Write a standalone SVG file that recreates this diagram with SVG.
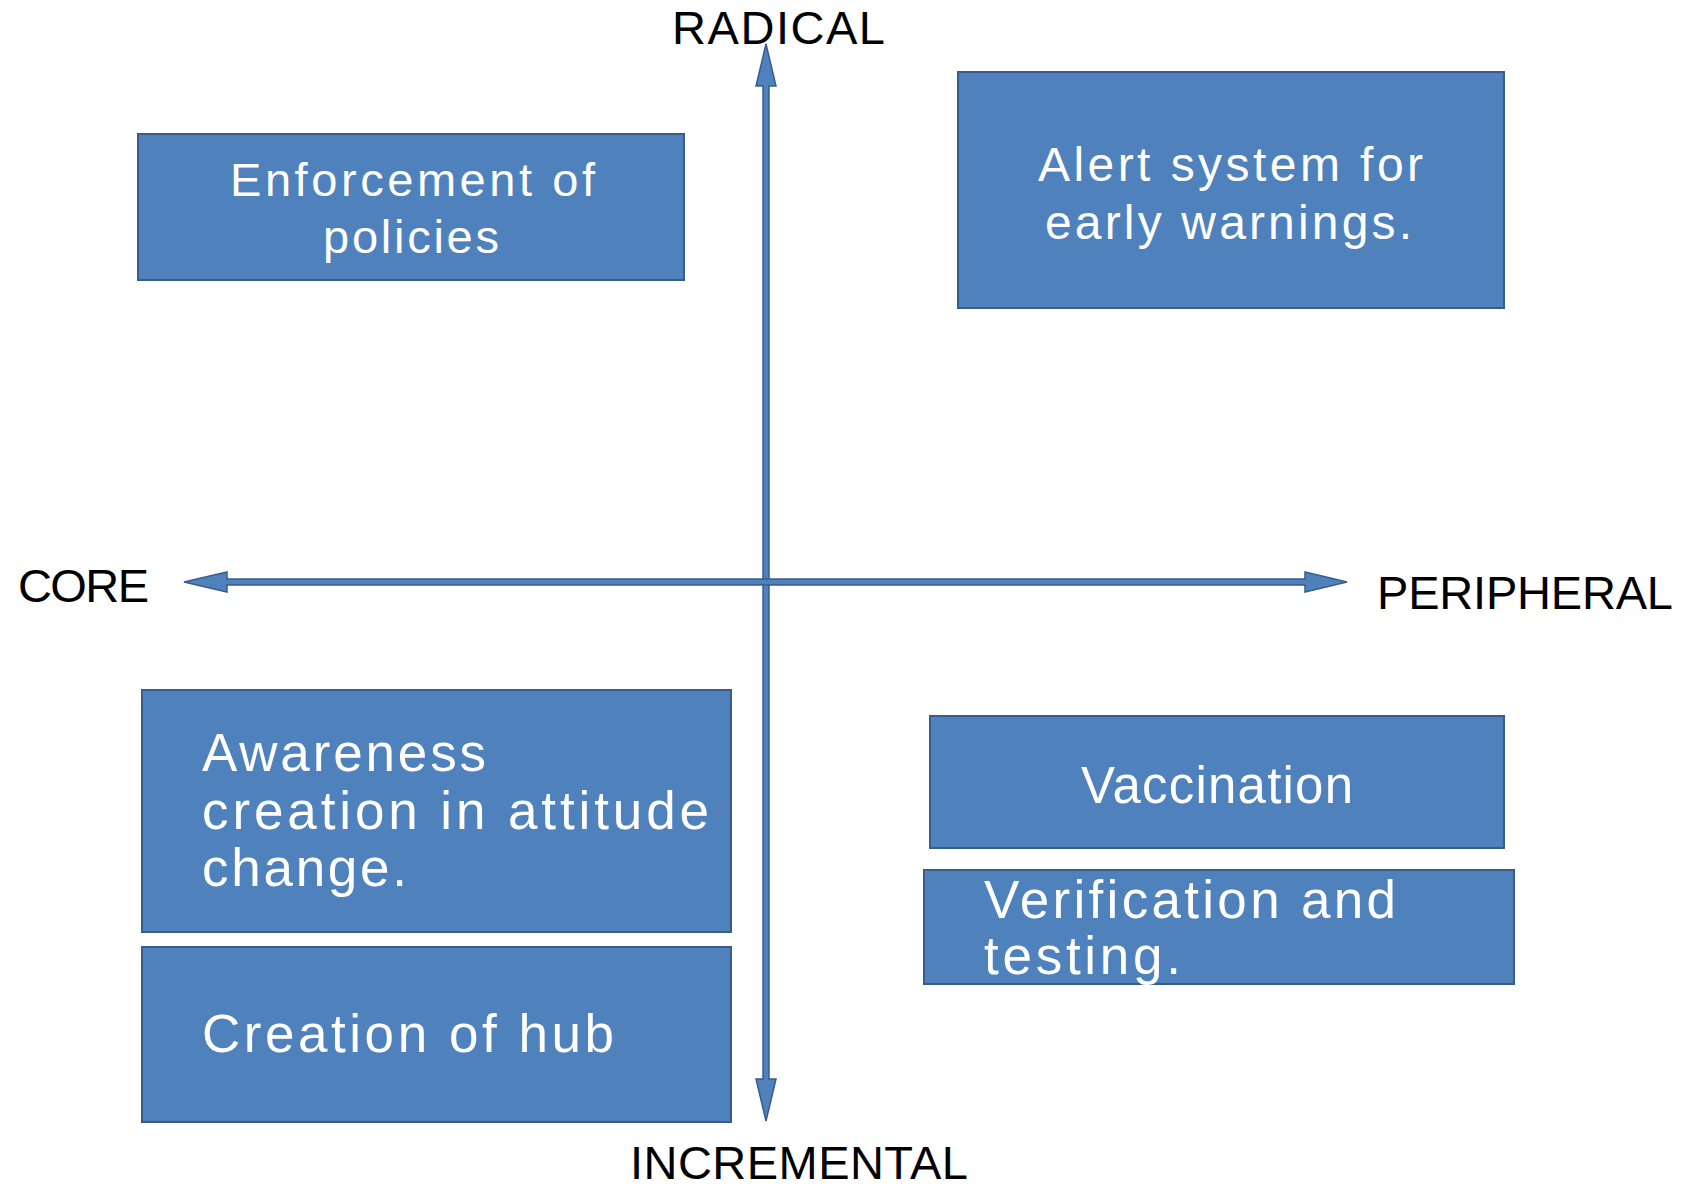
<svg xmlns="http://www.w3.org/2000/svg" width="1703" height="1186" viewBox="0 0 1703 1186">
<style>
.box{fill:#4F81BD;stroke:#385D8A;stroke-width:2}
.axis{fill:#4F81BD;stroke:#385D8A;stroke-width:1.5;stroke-linejoin:miter}
.bt{font-family:"Liberation Sans",Arial,sans-serif;fill:#FFFFFF}
.lab{font-family:"Liberation Sans",Arial,sans-serif;fill:#000000;font-size:47px}
</style>
<rect width="1703" height="1186" fill="#FFFFFF"/>
<g id="connectors">
<polygon class="axis" points="766,44 776,86 769,86 769,1079 776,1079 766,1121 756,1079 763,1079 763,86 756,86"/>
<polygon class="axis" points="184,582 227,572 227,579 1305,579 1305,572 1347,582 1305,592 1305,585 227,585 227,592"/>
</g>
<g id="axis-labels">
<text class="lab" x="672" y="44" textLength="213" lengthAdjust="spacing">RADICAL</text>
<text class="lab" x="18" y="602" textLength="131" lengthAdjust="spacing">CORE</text>
<text class="lab" x="1377" y="609" textLength="296" lengthAdjust="spacing">PERIPHERAL</text>
<text class="lab" x="630" y="1179" textLength="338" lengthAdjust="spacing">INCREMENTAL</text>
</g>
<g id="node-enforcement">
<rect class="box" x="138" y="134" width="546" height="146"/>
<text class="bt" font-size="47" x="230" y="196" textLength="365" lengthAdjust="spacing">Enforcement of</text>
<text class="bt" font-size="47" x="323" y="253" textLength="176" lengthAdjust="spacing">policies</text>
</g>
<g id="node-alert">
<rect class="box" x="958" y="72" width="546" height="236"/>
<text class="bt" font-size="48" x="1038" y="181" textLength="385" lengthAdjust="spacing">Alert system for</text>
<text class="bt" font-size="48" x="1045" y="239" textLength="367" lengthAdjust="spacing">early warnings.</text>
</g>
<g id="node-awareness">
<rect class="box" x="142" y="690" width="589" height="242"/>
<text class="bt" font-size="53" x="202" y="771" textLength="284" lengthAdjust="spacing">Awareness</text>
<text class="bt" font-size="53" x="202" y="829" textLength="507" lengthAdjust="spacing">creation in attitude</text>
<text class="bt" font-size="53" x="202" y="886" textLength="205" lengthAdjust="spacing">change.</text>
</g>
<g id="node-hub">
<rect class="box" x="142" y="947" width="589" height="175"/>
<text class="bt" font-size="53" x="202" y="1052" textLength="412" lengthAdjust="spacing">Creation of hub</text>
</g>
<g id="node-vaccination">
<rect class="box" x="930" y="716" width="574" height="132"/>
<text class="bt" font-size="51" x="1081" y="803" textLength="272" lengthAdjust="spacing">Vaccination</text>
</g>
<g id="node-verification">
<rect class="box" x="924" y="870" width="590" height="114"/>
<text class="bt" font-size="53" x="984" y="918" textLength="412" lengthAdjust="spacing">Verification and</text>
<text class="bt" font-size="53" x="984" y="974" textLength="197" lengthAdjust="spacing">testing.</text>
</g>
</svg>
